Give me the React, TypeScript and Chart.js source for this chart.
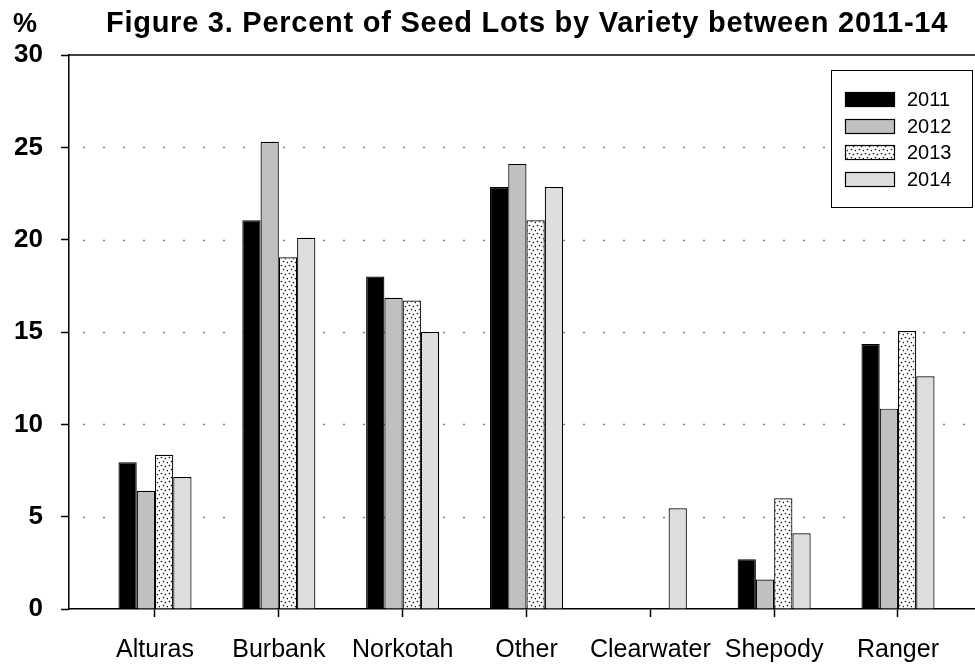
import React, { useEffect, useRef } from "react";
import { Chart, registerables } from "chart.js";

Chart.register(...registerables);

// ---- data ----
const categories = ["Alturas", "Burbank", "Norkotah", "Other", "Clearwater", "Shepody", "Ranger"];
const seriesLabels = ["2011", "2012", "2013", "2014"];
const values2011 = [7.95, 21.05, 18.0, 22.85, 0, 2.7, 14.35];
const values2012 = [6.4, 25.3, 16.85, 24.1, 0, 1.6, 10.85];
const values2013 = [8.35, 19.05, 16.7, 21.05, 0, 6.0, 15.05];
const values2014 = [7.15, 20.1, 15.0, 22.85, 5.45, 4.1, 12.6];
const yTickValues = [0, 5, 10, 15, 20, 25, 30];
const titleText = "Figure 3. Percent of Seed Lots by Variety between 2011-14";
const yUnitLabel = "%";

const FONT = "'Liberation Sans', Arial, Helvetica, sans-serif";

function makeDotPattern(): CanvasPattern | string {
  const c = document.createElement("canvas");
  c.width = 8;
  c.height = 8;
  const g = c.getContext("2d");
  if (!g) return "#ffffff";
  g.fillStyle = "#ffffff";
  g.fillRect(0, 0, 8, 8);
  g.fillStyle = "#1a1a1a";
  const dots = [
    [1, 1],
    [5, 2],
    [3, 5],
    [7, 6],
  ];
  dots.forEach(([x, y]) => {
    g.beginPath();
    g.arc(x + 0.5, y + 0.5, 0.85, 0, Math.PI * 2);
    g.fill();
  });
  const p = g.createPattern(c, "repeat");
  return p || "#ffffff";
}

export default function App() {
  const ref = useRef<HTMLCanvasElement | null>(null);

  useEffect(() => {
    if (!ref.current) return;
    const pattern = makeDotPattern();
    const fills = ["#000000", "#c0c0c0", pattern, "#dedede"];
    const seriesValues = [values2011, values2012, values2013, values2014];

    const datasets = seriesLabels.map((label, si) => ({
      label,
      data: categories.map((_, ci) => ({ x: ci, y: seriesValues[si][ci] })),
      backgroundColor: fills[si] as any,
      borderColor: "#000000",
      borderWidth: 1.2,
      borderSkipped: "start" as const,
      categoryPercentage: 0.59,
      barPercentage: 1.0,
    }));

    const decor = {
      id: "decor",
      beforeDatasetsDraw(chart: any) {
        const { ctx, chartArea, scales } = chart;
        const y = scales.y;
        ctx.save();
        ctx.strokeStyle = "#808080";
        ctx.lineWidth = 1.5;
        ctx.setLineDash([2, 18]);
        ctx.lineDashOffset = 6;
        y.ticks.forEach((t: any) => {
          if (t.value > y.min && t.value < y.max) {
            const py = Math.round(y.getPixelForValue(t.value)) + 0.5;
            ctx.beginPath();
            ctx.moveTo(chartArea.left, py);
            ctx.lineTo(chartArea.right, py);
            ctx.stroke();
          }
        });
        ctx.setLineDash([]);
        ctx.lineDashOffset = 0;
        ctx.strokeStyle = "#000000";
        ctx.lineWidth = 1.5;
        const top = y.getPixelForValue(y.max);
        ctx.beginPath();
        ctx.moveTo(chartArea.left, top);
        ctx.lineTo(chartArea.right, top);
        ctx.stroke();
        ctx.restore();
      },
      afterDraw(chart: any) {
        const { ctx } = chart;
        ctx.save();
        // title
        ctx.fillStyle = "#000000";
        ctx.textBaseline = "alphabetic";
        ctx.font = `bold 29px ${FONT}`;
        ctx.textAlign = "center";
        try {
          (ctx as any).letterSpacing = "0.75px";
        } catch (e) {}
        ctx.fillText(titleText, 527, 32);
        try {
          (ctx as any).letterSpacing = "0px";
        } catch (e) {}
        // unit label
        ctx.textAlign = "left";
        ctx.font = `bold 27px ${FONT}`;
        ctx.fillText(yUnitLabel, 13, 32);
        // legend
        const bx = 831.5, by = 70.5, bw = 141, bh = 137;
        ctx.fillStyle = "#ffffff";
        ctx.fillRect(bx, by, bw, bh);
        ctx.strokeStyle = "#000000";
        ctx.lineWidth = 1;
        ctx.strokeRect(bx, by, bw, bh);
        ctx.font = `20px ${FONT}`;
        ctx.textBaseline = "middle";
        chart.data.datasets.forEach((ds: any, i: number) => {
          const sy = Math.round(92 + i * 26.7);
          ctx.fillStyle = ds.backgroundColor;
          ctx.fillRect(845, sy, 50, 15);
          ctx.strokeStyle = "#000000";
          ctx.lineWidth = 1.2;
          ctx.strokeRect(845.5, sy + 0.5, 49, 14);
          ctx.fillStyle = "#000000";
          ctx.fillText(ds.label, 907, sy + 8);
        });
        ctx.restore();
      },
    };

    const chart = new Chart(ref.current, {
      type: "bar",
      data: { datasets: datasets as any },
      options: {
        responsive: false,
        devicePixelRatio: 1,
        animation: false,
        events: [],
        layout: { padding: { top: 55, left: 0, right: 0, bottom: 0 } },
        plugins: {
          legend: { display: false },
          title: { display: false },
          tooltip: { enabled: false },
        },
        scales: {
          x: {
            type: "linear",
            min: -0.6945,
            max: 6.622,
            bounds: "data",
            offset: false,
            afterBuildTicks: (scale: any) => {
              scale.ticks = categories.map((_, i) => ({ value: i }));
            },
            afterFit: (scale: any) => {
              scale.height = 58;
            },
            ticks: {
              autoSkip: false,
              maxRotation: 0,
              minRotation: 0,
              padding: 18,
              color: "#000000",
              font: { family: FONT, size: 25 },
              callback: (value: any) => categories[Math.round(Number(value))] ?? "",
            },
            grid: {
              offset: false,
              drawOnChartArea: false,
              drawTicks: true,
              tickLength: 8,
              tickColor: "#000000",
              tickWidth: 1.5,
            },
            border: { display: true, color: "#000000", width: 1.5 },
          },
          y: {
            type: "linear",
            min: 0,
            max: 30,
            afterBuildTicks: (scale: any) => {
              scale.ticks = yTickValues.map((v) => ({ value: v }));
            },
            afterFit: (scale: any) => {
              scale.width = 69;
            },
            ticks: {
              padding: 18,
              color: "#000000",
              font: { family: FONT, size: 26, weight: "bold" },
            },
            grid: {
              drawOnChartArea: false,
              drawTicks: true,
              tickLength: 8,
              tickColor: "#000000",
              tickWidth: 1.5,
            },
            border: { display: true, color: "#000000", width: 1.5 },
          },
        },
      },
      plugins: [decor],
    });

    return () => chart.destroy();
  }, []);

  return (
    <div
      style={{
        position: "fixed",
        left: 0,
        top: 0,
        width: 975,
        height: 667,
        overflow: "hidden",
        background: "#ffffff",
      }}
    >
      <canvas ref={ref} width={975} height={667} style={{ display: "block", width: 975, height: 667 }} />
    </div>
  );
}
